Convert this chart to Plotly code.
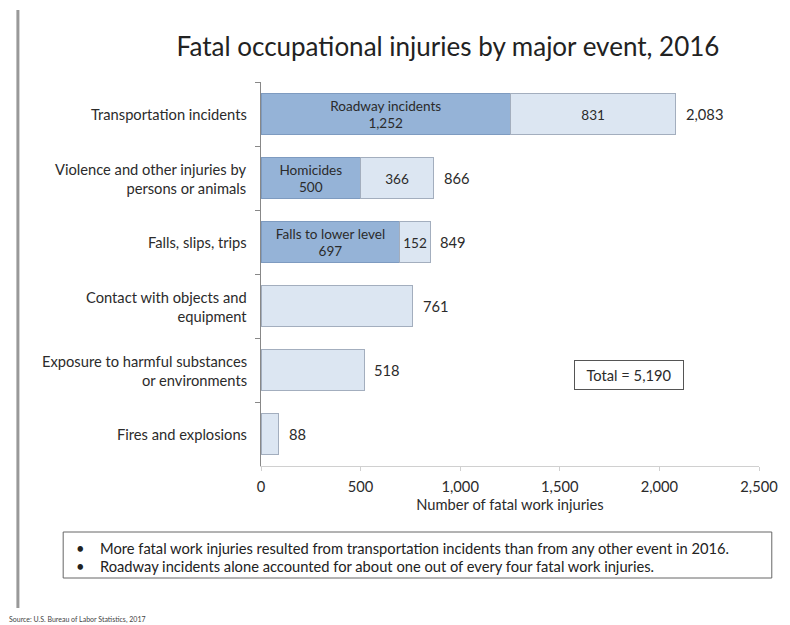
import plotly.graph_objects as go

categories = ["Transportation incidents",
              "Violence and other injuries by<br>persons or animals",
              "Falls, slips, trips",
              "Contact with objects and<br>equipment",
              "Exposure to harmful substances<br>or environments",
              "Fires and explosions"]
sub_names = ["Roadway incidents", "Homicides", "Falls to lower level", "", "", ""]
sub_values = [1252, 500, 697, 0, 0, 0]
rest_values = [831, 366, 152, 761, 518, 88]
totals = [2083, 866, 849, 761, 518, 88]
x_ticks = [0, 500, 1000, 1500, 2000, 2500]
bullets = ["More fatal work injuries resulted from transportation incidents than from any other event in 2016.",
           "Roadway incidents alone accounted for about one out of every four fatal work injuries."]

FONT = "Lato"
TXT = "#2b2b2b"
FS = 14.7

# page offset (body margin) of 8 px
OFF = 8
PL, PR, PT, PB = 261, 767, 82, 466  # plot area in page pixels
PW, PH = PR - PL, PB - PT


def px(x):
    return (x - PL) / PW


def py(y):
    return (PB - y) / PH


sub_text = [f"{n}<br>{v:,}" if v else "" for n, v in zip(sub_names, sub_values)]
rest_text = [f"{r:,}" if s else "" for s, r in zip(sub_values, rest_values)]

fig = go.Figure()
fig.add_trace(go.Bar(
    y=categories, x=sub_values, orientation="h",
    marker=dict(color="#95B3D7", line=dict(color="#7E9BC0", width=1)),
    text=sub_text, textposition="inside", insidetextanchor="middle", textangle=0,
    textfont=dict(family=FONT, size=FS, color=TXT), width=0.63,
    hoverinfo="skip", cliponaxis=False))
fig.add_trace(go.Bar(
    y=categories, x=rest_values, orientation="h",
    marker=dict(color="#DCE6F2", line=dict(color="#A3AEBE", width=1)),
    text=rest_text, textposition="inside", insidetextanchor="middle", textangle=0,
    textfont=dict(family=FONT, size=FS, color=TXT), width=0.63,
    hoverinfo="skip", cliponaxis=False))

annotations = []
for c, t in zip(categories, totals):
    annotations.append(dict(x=t, y=c, xref="x", yref="y", text=f"{t:,}", showarrow=False,
                            xanchor="left", xshift=8, font=dict(family=FONT, size=FS, color=TXT)))
    annotations.append(dict(x=0, y=c, xref="paper", yref="y", text=c, showarrow=False,
                            xanchor="right", align="right", xshift=-12,
                            font=dict(family=FONT, size=FS, color=TXT)))

# Total box
annotations.append(dict(x=px(635), y=py(375), xref="paper", yref="paper",
                        text="Total = 5,190", showarrow=False, xanchor="center", yanchor="middle",
                        bordercolor="#555555", borderwidth=1, borderpad=5, bgcolor="white",
                        width=98, font=dict(family=FONT, size=FS, color=TXT)))

# Bullets
for i, b in enumerate(bullets):
    yy = py(548 + 18 * i)
    annotations.append(dict(x=px(78), y=yy, xref="paper", yref="paper", text="•",
                            showarrow=False, xanchor="center", yanchor="middle",
                            font=dict(family=FONT, size=FS, color="#222222")))
    annotations.append(dict(x=px(95), y=yy, xref="paper", yref="paper", text=b,
                            showarrow=False, xanchor="left", yanchor="middle",
                            font=dict(family=FONT, size=FS, color="#222222")))

annotations.append(dict(x=px(3), y=py(619), xref="paper", yref="paper",
                        text="Source: U.S. Bureau of Labor Statistics, 2017", showarrow=False,
                        xanchor="left", yanchor="middle", font=dict(family=FONT, size=7, color="#444444")))

shapes = [
    dict(type="rect", xref="paper", yref="paper", x0=px(60), x1=px(780),
         y0=py(578), y1=py(532), line=dict(color="#666666", width=1)),
    dict(type="line", xref="paper", yref="paper", x0=px(14), x1=px(14),
         y0=py(608), y1=py(10), line=dict(color="#999999", width=3)),
]

W, H = 790 - OFF, 625 - OFF
fig.update_layout(
    barmode="stack", width=W, height=H, showlegend=False,
    paper_bgcolor="white", plot_bgcolor="white",
    margin=dict(l=PL - OFF, r=W - (PR - OFF), t=PT - OFF, b=H - (PB - OFF)),
    title=dict(text="Fatal occupational injuries by major event, 2016", x=(448 - OFF) / W, xanchor="center",
               y=1 - (47 - OFF) / H, yanchor="middle", font=dict(family=FONT, size=26, color="#222222")),
    xaxis=dict(range=[0, 2500], tickvals=x_ticks, tickformat=",", showgrid=False, zeroline=False,
               showline=True, linecolor="#d0d0d0", linewidth=1, ticks="outside", ticklen=4,
               tickcolor="#d0d0d0", ticklabelstandoff=3,
               tickfont=dict(family=FONT, size=FS, color=TXT),
               title=dict(text="Number of fatal work injuries", standoff=2,
                          font=dict(family=FONT, size=FS, color=TXT))),
    yaxis=dict(autorange="reversed", showticklabels=False, showline=True, linecolor="#888888",
               linewidth=1, ticks="outside", tickson="boundaries", ticklen=5, tickcolor="#888888",
               showgrid=False),
    annotations=annotations, shapes=shapes,
    uniformtext=dict(mode="show", minsize=8),
)

fig.write_html("out.html")
